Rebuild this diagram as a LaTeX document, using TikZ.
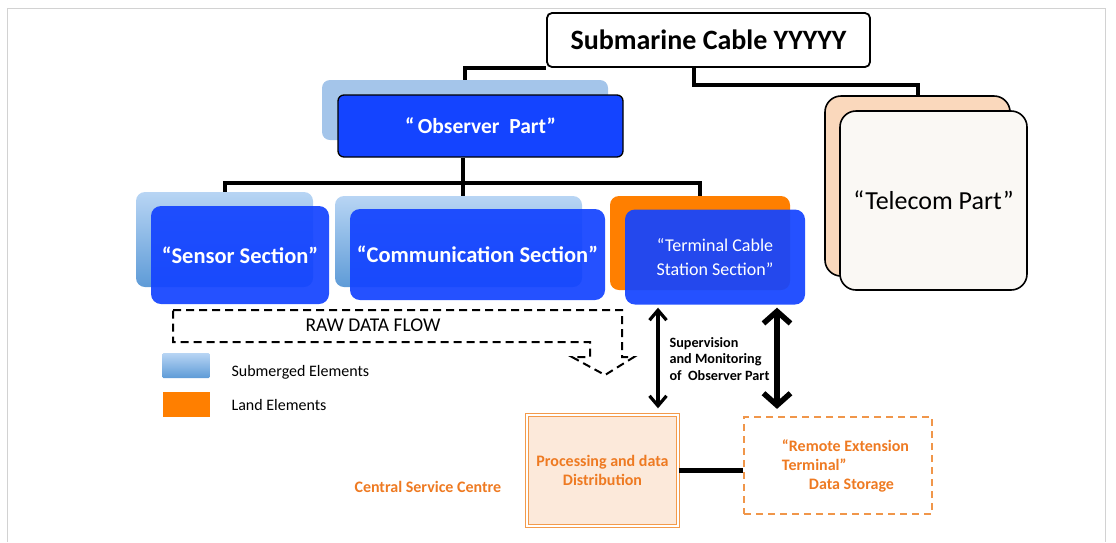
\documentclass[tikz,border=0pt]{standalone}
\usepackage{fontspec}
\setmainfont{Carlito}
\usetikzlibrary{arrows.meta,calc}
\definecolor{dblue}{HTML}{1444FF}
\definecolor{lblueT}{HTML}{B8D5F4}
\definecolor{lblueB}{HTML}{5E9BD7}
\definecolor{obsbk}{HTML}{A4C5EA}
\definecolor{landor}{HTML}{FF7F00}
\definecolor{peach}{HTML}{FAD8BC}
\definecolor{offw}{HTML}{FAF8F4}
\definecolor{procfill}{HTML}{FCE9DA}
\definecolor{procdraw}{HTML}{F39A4B}
\definecolor{remdraw}{HTML}{F0964A}
\definecolor{otext}{HTML}{EE7A22}
\newcommand{\fsz}[2]{\fontsize{#1}{#2}\selectfont}
\begin{document}
\begin{tikzpicture}[x=1pt,y=-1pt,
  titlebox/.style={draw=black, line width=1.8, rounded corners=5, fill=white, font=\bfseries\fsz{28}{31}},
  backblue/.style={rounded corners=9, top color=lblueT, bottom color=lblueB, draw=none},
  frontblue/.style={rounded corners=10, fill=dblue, fill opacity=0.93, text opacity=1, text=white, font=\bfseries\fsz{22.5}{26}, align=center},
  telbox/.style={rounded corners=16, draw=black, line width=1.6},
  conn/.style={line width=4, black},
  rawflow/.style={dashed, line width=2, dash pattern=on 8pt off 5pt},
  legtext/.style={anchor=west, font=\fsz{16}{19}},
  arrL/.style={line width=3.2, {Straight Barb[length=10pt,width=17pt]}-{Straight Barb[length=10pt,width=17pt]}},
  arrR/.style={line width=5.5, {Straight Barb[length=12pt,width=27pt]}-{Straight Barb[length=12pt,width=27pt]}},
  procbox/.style={fill=procfill, draw=procdraw, line width=1.4, double=white, double distance=1.3, text=otext, font=\bfseries\fsz{16}{19}, align=center},
  rembox/.style={draw=remdraw, line width=2.2, dash pattern=on 7pt off 5pt, text=otext, font=\bfseries\fsz{16}{19}, align=left},
  otxt/.style={text=otext, font=\bfseries\fsz{16}{19}}
]
\useasboundingbox (0,0) rectangle (1116,542);
\draw[gray!35, line width=1] (7,542) -- (7,8) -- (1105,8) -- (1105,542);

% top
\node[titlebox, minimum width=323, minimum height=54] (sub) at (708.5,40) {Submarine Cable YYYYY};

% observer
\node[rounded corners=8, fill=obsbk, minimum width=286, minimum height=60] (obsback) at (465,110) {};
\node[frontblue, fill opacity=1, draw=black, line width=1.3, rounded corners=6, minimum width=285, minimum height=62, font=\bfseries\fsz{21.5}{25}] (obs) at (480.5,126) {“\,Observer~ Part”};

% telecom
\node[telbox, fill=peach, minimum width=185, minimum height=180] (telback) at (917.5,186) {};
\node[telbox, fill=offw, minimum width=187, minimum height=179, font=\fsz{26}{30}] (tel) at (933.5,200.5) {“Telecom Part”};

% sections
\node[backblue, minimum width=177, minimum height=95] (sensback) at (224.5,239.5) {};
\node[frontblue, minimum width=178, minimum height=98] (sens) at (240,255) {“Sensor Section”};
\node[backblue, minimum width=247, minimum height=91] (commback) at (458.5,241.5) {};
\node[frontblue, minimum width=255, minimum height=91] (comm) at (477.5,254.5) {“Communication Section”};
\node[rounded corners=9, fill=landor, minimum width=180, minimum height=94] (termback) at (700,243) {};
\node[frontblue, minimum width=180, minimum height=95, font=\fsz{18}{23.5}] (term) at (715,257) {“Terminal Cable\\Station Section”};

% connectors
\draw[conn] (sub.south west) -| (obsback.north);
\draw[conn] ([xshift=-15pt]sub.south) -- ++(0,17) -| (telback.north);
\draw[conn] ([xshift=-17.5pt]obs.south) -- ++(0,25) coordinate (j);
\draw[conn] (j) -| (sensback.north);
\draw[conn] (j) -- (j |- commback.north);
\draw[conn] (j) -| (termback.north);

% raw data flow
\draw[rawflow] (173,310) -- (622,310) -- (622,357) -- (634,357) -- (605,375) -- (572,357) -- (590,357) -- (590,342) -- (173,342) -- cycle;
\node[font=\fsz{19.5}{22}] (raw) at (373,325) {RAW DATA FLOW};

% legend
\node[backblue, rounded corners=1, minimum width=47, minimum height=25] (legsub) at (186,365.5) {};
\node[legtext] (legsubt) at (228,372) {Submerged Elements};
\node[fill=landor, minimum width=47, minimum height=25] (legland) at (186,404.5) {};
\node[legtext] (leglandt) at (228,405) {Land Elements};

% central service
\node[procbox, minimum width=151, minimum height=111] (proc) at (602.5,470.5) {Processing and data\\Distribution};
\node[rembox, minimum width=188, minimum height=97] (remote) at (838,465.5) {\hspace*{15pt}“Remote Extension\\\hspace*{15pt}Terminal”\\\hspace*{42pt}Data Storage};
\node[otxt, anchor=west] (csc) at (351,487) {Central Service Centre};
\draw[line width=5] (proc.east) -- (proc.east -| remote.west);

% supervision arrows
\draw[arrL] ([xshift=-57pt,yshift=-3pt]term.south) -- ([xshift=55.5pt,yshift=6pt]proc.north);
\draw[arrR] ([xshift=62pt,yshift=-3pt]term.south) -- ([xshift=-61pt,yshift=7pt]remote.north);
\node[anchor=west, align=left, font=\bfseries\fsz{14.2}{16.5}] (sup) at (666,359) {Supervision\\and Monitoring\\of~ Observer Part};
\end{tikzpicture}
\end{document}
